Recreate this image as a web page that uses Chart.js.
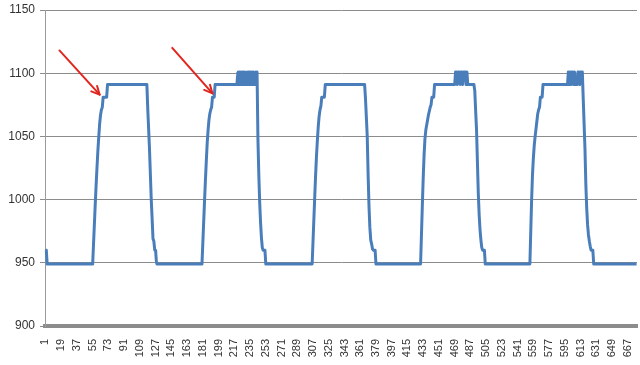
<!DOCTYPE html>
<html>
<head>
<meta charset="utf-8">
<script src="https://cdn.jsdelivr.net/npm/chart.js@4.4.0/dist/chart.umd.min.js"></script>
<style>
  html, body { margin: 0; padding: 0; background: #ffffff; }
  #wrap { width: 640px; height: 365px; position: relative; }
</style>
</head>
<body>
<div id="wrap"><canvas id="c" width="640" height="365"></canvas></div>
<script>
// Y axis ticks
const yTicks = [900, 950, 1000, 1050, 1100, 1150];
// X tick labels shown (every 18th category)
const tickLabels = ['1','19','37','55','73','91','109','127','145','163','181','199','217','235','253','271','289','307','325','343','361','379','397','415','433','451','469','487','505','523','541','559','577','595','613','631','649','667'];

// Series values. [value, count] = a flat run of equal values.
const cycle1 = [[960,2],[949,53],
  965,981,997,1012,1026,1039,1050,1060,1067,1071,1073,
  [1081,5],[1091,46],
  1072,1056,1040,1020,1000,985,969,967,
  [960,2]];
const cycle2 = [[949,53],
  966,983,1000,1016,1031,1045,1055,1063,1068,1071,1073,
  [1081,3],[1091,26],
  1101,1091,1101,1091,1101,1091,1101,1091,1101,1091,1101,1091,1101,1091,1101,1091,1101,1091,1101,1091,1101,1091,1101,
  1048,1020,998,982,970,962,
  [960,3]];
const cycle3 = [[949,54],
  967,985,1003,1020,1035,1047,1058,1066,1071,1074,
  [1081,4],[1091,46],
  1080,1065,1050,1020,995,978,968,965,961,
  [960,3]];
const cycle4 = [[949,52],
  972,995,1017,1035,1048,1055,1059,1063,1067,1070,1073,1075,
  [1081,3],[1091,24],
  1101,1101,1091,1101,1101,1091,1101,1101,1091,1101,1101,1101,1091,1101,
  [1091,8],
  1086,1070,1055,1030,1005,988,976,968,962,
  [960,3]];
const cycle5 = [[949,52],
  975,1000,1020,1033,1043,1050,1056,1062,1068,1071,1073,
  [1081,3],[1091,29],
  1101,1091,1101,1091,1101,1101,1091,1101,1091,1091,1091,1101,1101,1091,1101,1101,1101,
  1080,1060,1040,1012,993,980,972,967,963,
  [960,3],[949,50]];

// Red arrow annotations (category number, value)
const arrows = [
  { from: [17, 1118], to: [63, 1083] },
  { from: [146, 1120], to: [192, 1084] }
];

const expand = (arr) => arr.flatMap(e => Array.isArray(e) ? Array(e[1]).fill(e[0]) : [e]);
const values = expand([...cycle1, ...cycle2, ...cycle3, ...cycle4, ...cycle5]);
const categories = values.map((_, i) => String(i + 1));
const tickSet = new Set(tickLabels);

const arrowPlugin = {
  id: 'arrows',
  afterDatasetsDraw(chart) {
    const { ctx, scales: { x, y } } = chart;
    ctx.save();
    ctx.strokeStyle = '#e0261e';
    ctx.lineWidth = 2;
    ctx.lineCap = 'round';
    ctx.lineJoin = 'round';
    arrows.forEach(a => {
      const x1 = x.getPixelForValue(a.from[0] - 1), y1 = y.getPixelForValue(a.from[1]);
      const x2 = x.getPixelForValue(a.to[0] - 1), y2 = y.getPixelForValue(a.to[1]);
      ctx.beginPath();
      ctx.moveTo(x1, y1); ctx.lineTo(x2, y2);
      ctx.stroke();
      const ang = Math.atan2(y2 - y1, x2 - x1);
      const len = 9, spread = 0.45;
      ctx.beginPath();
      ctx.moveTo(x2 - len * Math.cos(ang - spread), y2 - len * Math.sin(ang - spread));
      ctx.lineTo(x2, y2);
      ctx.lineTo(x2 - len * Math.cos(ang + spread), y2 - len * Math.sin(ang + spread));
      ctx.stroke();
    });
    ctx.restore();
  }
};

new Chart(document.getElementById('c'), {
  type: 'line',
  data: {
    labels: categories,
    datasets: [{
      data: values,
      borderColor: '#4a7ebb',
      borderWidth: 3,
      pointRadius: 0,
      tension: 0.000001,
      borderJoinStyle: 'round',
      fill: false
    }]
  },
  options: {
    responsive: false,
    devicePixelRatio: 1,
    animation: false,
    events: [],
    layout: { padding: { top: 10, right: 3, bottom: 0, left: 0 } },
    plugins: { legend: { display: false }, tooltip: { enabled: false } },
    scales: {
      x: {
        type: 'category',
        offset: true,
        grid: { display: false },
        border: { display: true, color: '#8c8c8c', width: 4 },
        ticks: {
          autoSkip: false,
          maxRotation: 90,
          minRotation: 90,
          padding: 5,
          color: '#333333',
          font: { family: "'Liberation Sans', Arial, sans-serif", size: 11 },
          callback: function(val, idx) { return tickSet.has(categories[idx]) ? categories[idx] : null; }
        },
        afterFit(scale) { scale.height = 39; scale.paddingLeft = 0; scale.paddingRight = 0; }
      },
      y: {
        min: yTicks[0],
        max: yTicks[yTicks.length - 1],
        afterBuildTicks(scale) { scale.ticks = yTicks.map(v => ({ value: v })); },
        grid: { color: '#8c8c8c', lineWidth: 1, drawTicks: true, tickLength: 5 },
        border: { display: true, color: '#9a9a9a', width: 1 },
        ticks: {
          padding: 5,
          color: '#333333',
          font: { family: "'Liberation Sans', Arial, sans-serif", size: 12 },
          callback: function(v) { return String(v); }
        },
        afterFit(scale) { scale.width = 45; scale.paddingTop = 0; scale.paddingBottom = 0; }
      }
    }
  },
  plugins: [arrowPlugin]
});
</script>
</body>
</html>
